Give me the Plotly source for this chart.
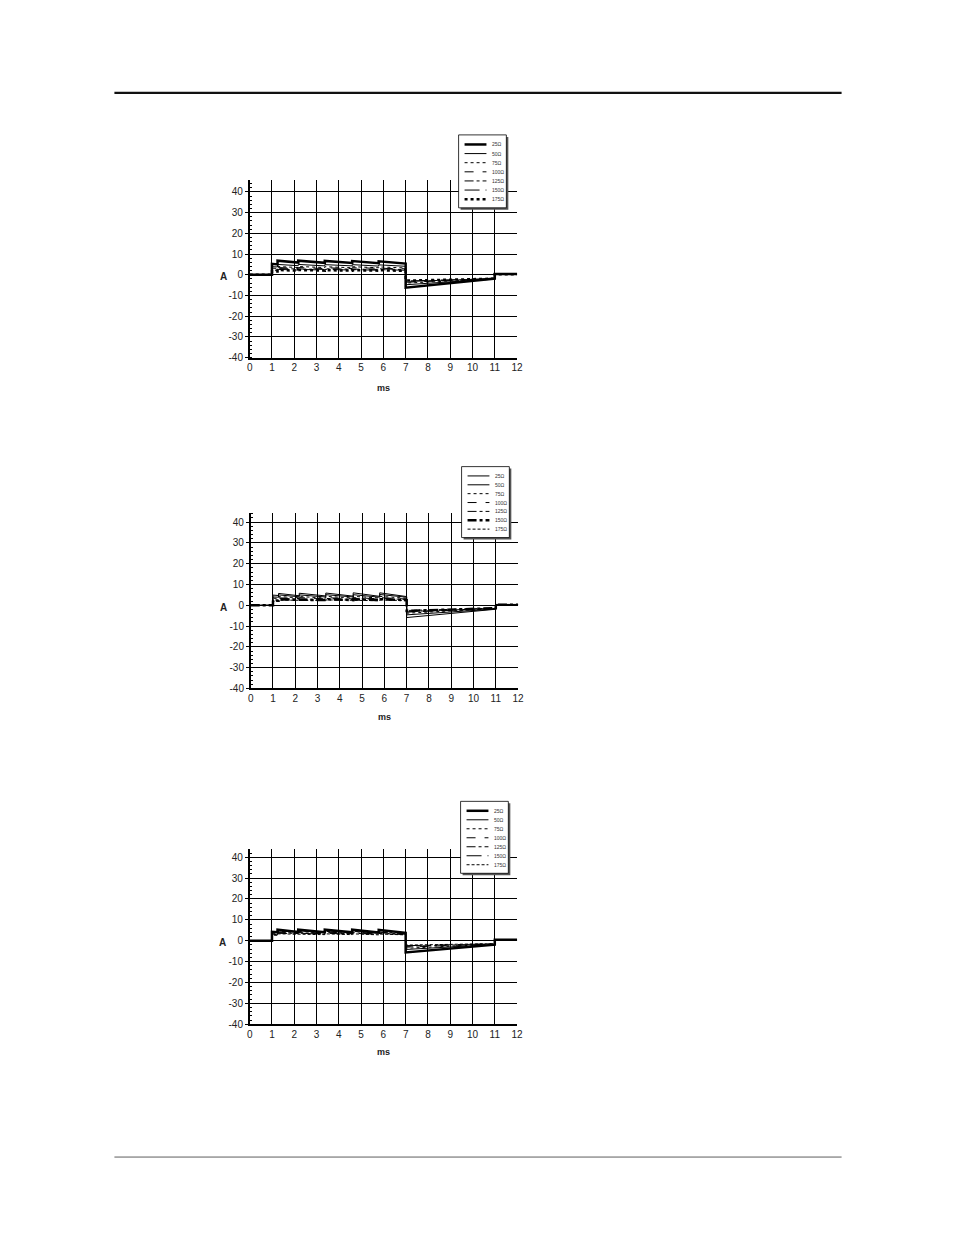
import plotly.graph_objects as go

# reference page size (all placements below are in these pixel units)
W, H = 954, 1235
# rendered figure size, a touch larger to counter the slight capture shrink seen in earlier runs
FIG_W, FIG_H = 958, 1240

# --- data (current in A vs time in ms) ---
resistances = ["25Ω", "50Ω", "75Ω", "100Ω", "125Ω", "150Ω", "175Ω"]

times = [0, 1, 1, 1.25, 1.25, 2.18, 2.18, 3.37, 3.37, 4.6, 4.6, 5.79, 5.79, 7, 7, 11, 11, 12]

x_ticks = [0, 1, 2, 3, 4, 5, 6, 7, 8, 9, 10, 11, 12]
y_ticks = [-40, -30, -20, -10, 0, 10, 20, 30, 40]
y_labels = ["-40", "-30", "-20", "-10", "0", "10", "20", "30", "40"]

amps_1 = [
    [0, 0, 5.3, 5.0, 6.8, 5.9, 6.8, 5.8, 6.7, 5.7, 6.6, 5.6, 6.5, 5.4, -6.2, -1.8, 0.4, 0.4],
    [0, 0, 3.9, 3.8, 5.0, 4.4, 5.0, 4.3, 4.9, 4.3, 4.9, 4.2, 4.8, 4.1, -4.8, -2.0, 0.4, 0.4],
    [0, 0, 3.2, 3.1, 4.0, 3.5, 4.0, 3.5, 3.9, 3.4, 3.9, 3.4, 3.8, 3.3, -4.0, -2.0, 0.3, 0.3],
    [0, 0, 2.7, 2.6, 3.5, 3.1, 3.5, 3.0, 3.4, 3.0, 3.4, 3.0, 3.3, 2.9, -3.6, -2.0, 0.3, 0.3],
    [0, 0, 2.3, 2.2, 3.0, 2.7, 3.0, 2.6, 2.9, 2.6, 2.9, 2.6, 2.9, 2.5, -3.2, -1.9, 0.3, 0.3],
    [0, 0, 2.0, 1.9, 2.6, 2.3, 2.6, 2.3, 2.6, 2.3, 2.5, 2.2, 2.5, 2.2, -3.0, -1.9, 0.2, 0.2],
    [0, 0, 1.7, 1.6, 2.3, 2.0, 2.3, 2.0, 2.2, 2.0, 2.2, 2.0, 2.2, 1.9, -2.8, -1.9, 0.2, 0.2],
]

amps_2 = [
    [0, 0, 4.9, 4.7, 5.7, 4.6, 5.8, 4.5, 5.9, 4.4, 6.0, 4.3, 6.0, 4.2, -5.9, -1.9, 0.4, 0.4],
    [0, 0, 4.0, 3.9, 5.0, 4.1, 5.0, 4.0, 5.1, 4.0, 5.1, 3.9, 5.2, 3.9, -4.6, -1.8, 0.4, 0.4],
    [0, 0, 3.4, 3.3, 4.2, 3.6, 4.2, 3.5, 4.3, 3.5, 4.3, 3.5, 4.3, 3.4, -3.8, -1.6, 0.3, 0.3],
    [0, 0, 3.0, 2.9, 3.6, 3.2, 3.7, 3.1, 3.7, 3.1, 3.7, 3.1, 3.7, 3.0, -3.3, -1.5, 0.3, 0.3],
    [0, 0, 2.6, 2.5, 3.2, 2.9, 3.2, 2.8, 3.3, 2.8, 3.3, 2.8, 3.3, 2.8, -3.0, -1.5, 0.3, 0.3],
    [0, 0, 2.3, 2.2, 2.8, 2.6, 2.9, 2.5, 2.9, 2.5, 2.9, 2.5, 2.9, 2.5, -2.7, -1.4, 0.2, 0.2],
    [0, 0, 2.0, 1.9, 2.5, 2.3, 2.6, 2.3, 2.6, 2.3, 2.6, 2.2, 2.6, 2.2, -2.5, -1.4, 0.2, 0.2],
]

amps_3 = [
    [0, 0, 4.3, 4.1, 5.3, 4.2, 5.3, 4.1, 5.3, 4.0, 5.3, 3.9, 5.2, 3.8, -5.6, -1.9, 0.5, 0.5],
    [0, 0, 3.9, 3.8, 4.8, 4.0, 4.8, 3.9, 4.8, 3.9, 4.8, 3.8, 4.8, 3.7, -4.2, -1.8, 0.4, 0.4],
    [0, 0, 3.6, 3.5, 4.5, 3.8, 4.5, 3.7, 4.5, 3.7, 4.5, 3.6, 4.4, 3.5, -3.6, -1.7, 0.4, 0.4],
    [0, 0, 3.4, 3.3, 4.2, 3.6, 4.2, 3.5, 4.2, 3.5, 4.2, 3.4, 4.1, 3.3, -3.1, -1.6, 0.3, 0.3],
    [0, 0, 3.1, 3.0, 3.9, 3.4, 3.9, 3.3, 3.9, 3.3, 3.9, 3.2, 3.8, 3.1, -2.7, -1.5, 0.3, 0.3],
    [0, 0, 2.9, 2.8, 3.6, 3.2, 3.6, 3.1, 3.6, 3.1, 3.6, 3.0, 3.5, 2.9, -2.4, -1.5, 0.3, 0.3],
    [0, 0, 2.7, 2.6, 3.3, 3.0, 3.3, 2.9, 3.3, 2.9, 3.3, 2.8, 3.2, 2.8, -2.1, -1.4, 0.2, 0.2],
]

# line style (dash, width) per resistance, one list per chart
styles_1 = [("solid", 2.5), ("solid", 1), ("dot", 1), ("dash", 1), ("dashdot", 1), ("longdashdot", 1), ("dot", 2.5)]
styles_2 = [("solid", 1), ("solid", 1), ("dot", 1), ("dash", 1), ("dashdot", 1), ("dashdot", 2.5), ("3px,2px", 1)]
styles_3 = [("solid", 2.5), ("solid", 1), ("dot", 1), ("dash", 1), ("dashdot", 1), ("longdashdot", 1), ("3px,2px", 1)]

FONT = "Liberation Sans, Arial, sans-serif"


def px(x):
    return x / W


def py(y):
    return 1 - y / H


# pixel boxes of each plot: (left, right, top, bottom), y range top, legend box, "A" pos, "ms" pos
charts = [
    dict(amps=amps_1, styles=styles_1, box=(248, 517, 180, 358), ytop=45.8,
         legend=(458, 506, 135, 208), a=(222, 277), ms=(383, 388)),
    dict(amps=amps_2, styles=styles_2, box=(249, 518, 513, 689), ytop=44.6,
         legend=(461, 509, 467, 538), a=(222, 608), ms=(384, 718)),
    dict(amps=amps_3, styles=styles_3, box=(248, 517, 850, 1025), ytop=43.8,
         legend=(460, 508, 802, 874), a=(221, 943), ms=(383, 1053)),
]

fig = go.Figure()
shapes = []
annotations = []

for i, c in enumerate(charts):
    n = "" if i == 0 else str(i + 1)
    left, right, top, bottom = c["box"]

    for name, vals, (dash, width) in zip(resistances, c["amps"], c["styles"]):
        fig.add_trace(go.Scatter(
            x=times, y=vals, mode="lines", name=name, showlegend=False,
            line=dict(color="black", width=width, dash=dash),
            xaxis="x" + n, yaxis="y" + n,
        ))

    fig.update_layout({
        "xaxis" + n: dict(
            domain=[px(left), px(right)], range=[0, 12.01], anchor="y" + n,
            tickvals=x_ticks, showgrid=True, gridcolor="black", gridwidth=1.3,
            showline=True, linecolor="black", linewidth=1.5, zeroline=False,
            ticks="", tickfont=dict(family=FONT, size=10, color="#222"),
        ),
        "yaxis" + n: dict(
            domain=[py(bottom), py(top)], range=[-40, c["ytop"]], anchor="x" + n,
            tickvals=y_ticks, ticktext=y_labels, showgrid=True, gridcolor="black", gridwidth=1.3,
            showline=True, linecolor="black", linewidth=1.5, zeroline=False,
            ticks="outside", ticklen=3, tickcolor="black",
            tickfont=dict(family=FONT, size=10, color="#222"),
            minor=dict(dtick=2, ticks="inside", ticklen=3, tickcolor="black", showgrid=False),
        ),
    })

    # axis titles
    annotations.append(dict(text="<b>A</b>", x=px(c["a"][0]), y=py(c["a"][1]), xref="paper", yref="paper",
                            xanchor="center", yanchor="middle",
                            showarrow=False, font=dict(family=FONT, size=10, color="#222")))
    annotations.append(dict(text="<b>ms</b>", x=px(c["ms"][0]), y=py(c["ms"][1]), xref="paper", yref="paper",
                            xanchor="center", yanchor="middle",
                            showarrow=False, font=dict(family=FONT, size=9, color="#222")))

    # hand-drawn small legend box with shadow
    l0, l1, t0, t1 = c["legend"]
    shapes.append(dict(type="rect", xref="paper", yref="paper", layer="above",
                       x0=px(l0 + 2), x1=px(l1 + 2), y0=py(t1 + 2), y1=py(t0 + 2),
                       line=dict(width=0), fillcolor="#555"))
    shapes.append(dict(type="rect", xref="paper", yref="paper", layer="above",
                       x0=px(l0), x1=px(l1), y0=py(t1), y1=py(t0),
                       line=dict(color="black", width=0.8), fillcolor="white"))
    step = (t1 - t0) / 8.0
    for k, (name, (dash, width)) in enumerate(zip(resistances, c["styles"])):
        ry = t0 + step * (k + 1.05)
        shapes.append(dict(type="line", xref="paper", yref="paper", layer="above",
                           x0=px(l0 + 6), x1=px(l0 + 28), y0=py(ry), y1=py(ry),
                           line=dict(color="black", width=width, dash=dash)))
        annotations.append(dict(text=name, x=px(l0 + 32), y=py(ry), xref="paper", yref="paper",
                                xanchor="left", yanchor="middle", showarrow=False,
                                font=dict(family=FONT, size=5, color="#333")))

# page rules
shapes.append(dict(type="line", xref="paper", yref="paper", x0=px(112), x1=px(843), y0=py(93), y1=py(93),
                   line=dict(color="#111", width=2.2)))
shapes.append(dict(type="line", xref="paper", yref="paper", x0=px(112), x1=px(843), y0=py(1158), y1=py(1158),
                   line=dict(color="#333", width=0.8)))

fig.update_layout(
    width=FIG_W, height=FIG_H, autosize=False,
    margin=dict(l=0, r=0, t=0, b=0),
    paper_bgcolor="white", plot_bgcolor="white",
    showlegend=False,
    shapes=shapes, annotations=annotations,
    font=dict(family=FONT),
)

fig.write_html(
    "out.html",
    config={"displayModeBar": False},
    post_script="document.documentElement.style.overflow='hidden';"
                "document.body.style.margin='0px';document.body.style.overflow='hidden';",
)
